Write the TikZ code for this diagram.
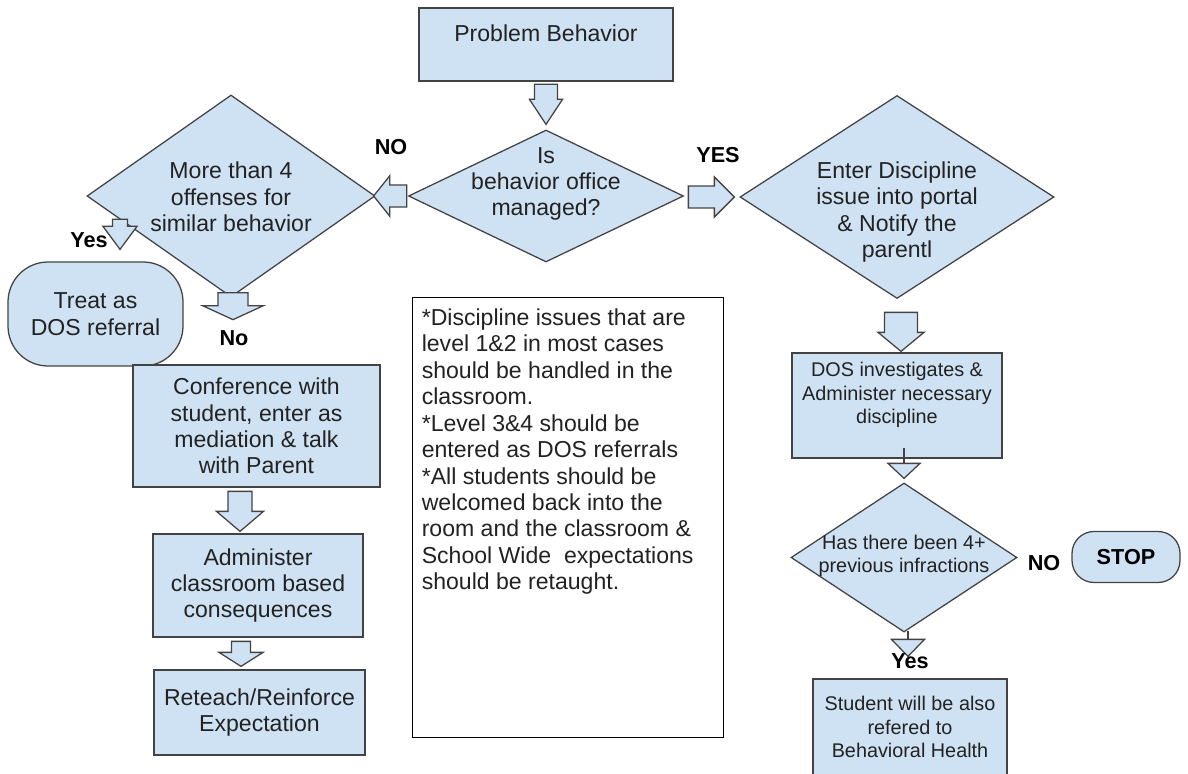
\documentclass[tikz,border=0pt]{standalone}
\usepackage{fontspec}
\setmainfont{Liberation Sans}
\usepackage{tikz}
\usetikzlibrary{shapes, positioning, calc}
\usepackage{xcolor}

\definecolor{boxblue}{HTML}{CFE2F3}
\definecolor{edgegray}{HTML}{434343}
\definecolor{textgray}{HTML}{222222}

\newlength{\pix}
\setlength{\pix}{0.025cm}

\newcommand{\bodytext}{\fontsize{16.4}{18.8}\selectfont}
\newcommand{\smalltext}{\fontsize{14.1}{16.7}\selectfont}
\newcommand{\answertext}{\fontsize{15.4}{18}\selectfont\bfseries}

% block arrows: tip, length, shaft half width, head half width, head length
\newcommand{\fatdown}[5]{%
  \filldraw[fatarrow] (#1) -- ++(#4,-#5) -- ++(#3-#4,0) -- ++(0,#5-#2)
    -- ++(-2*#3,0) -- ++(0,#2-#5) -- ++(#3-#4,0) -- cycle;}
\newcommand{\fatright}[5]{%
  \filldraw[fatarrow] (#1) -- ++(-#5,-#4) -- ++(0,#4-#3) -- ++(#5-#2,0)
    -- ++(0,2*#3) -- ++(#2-#5,0) -- ++(0,#4-#3) -- cycle;}
\newcommand{\fatleft}[5]{%
  \filldraw[fatarrow] (#1) -- ++(#5,-#4) -- ++(0,#4-#3) -- ++(#2-#5,0)
    -- ++(0,2*#3) -- ++(#5-#2,0) -- ++(0,#4-#3) -- cycle;}
% thin stem with triangle: tip, stem length, head half width, head length
\newcommand{\slimdown}[4]{%
  \draw[fatarrow] (#1) ++(0,-#4) -- ++(0,-#2);
  \filldraw[fatarrow] (#1) -- ++(#3,-#4) -- ++(-2*#3,0) -- cycle;}

\begin{document}
\begin{tikzpicture}[x=0.025cm, y=-0.025cm,
    box/.style={draw=edgegray, fill=boxblue, line width=0.9pt, inner sep=0pt,
      align=center, font=\bodytext, text=textgray},
    decision/.style={diamond, draw=edgegray, fill=boxblue, line width=0.9pt, inner sep=0pt},
    words/.style={align=center, inner sep=0pt, font=\bodytext, text=textgray},
    answer/.style={inner sep=0pt, font=\answertext, anchor=base},
    fatarrow/.style={draw=edgegray, fill=boxblue, line width=0.9pt}]

    % Page
    \fill[white] (0,0) rectangle (1188,774);
    \useasboundingbox (0,0) rectangle (1188,774);

    % Start
    \node[box, minimum width=254\pix, minimum height=73\pix] (pb) at (546,44.5) {};
    \node[words, anchor=base] (pbtext) at (546,42) {Problem Behavior};

    % Decisions
    \node[decision, minimum width=275\pix, minimum height=132\pix] (office) at (546,196) {};
    \node[words] (officetext) at (546,184) {Is\\behavior office\\managed?};
    \node[decision, minimum width=288\pix, minimum height=202\pix] (offense) at (231,196) {};
    \node[words] (offensetext) at (231,197) {More than 4\\offenses for\\similar behavior};
    \node[decision, minimum width=314\pix, minimum height=203\pix] (enter) at (897,197) {};
    \node[words] (entertext) at (897,212) {Enter Discipline\\issue into portal\\\& Notify the\\parentl};

    % Left branch
    \node[box, rounded corners=40\pix, minimum width=175\pix, minimum height=104\pix] (treat) at (95.5,314) {Treat as\\DOS referral};
    \node[box, minimum width=247\pix, minimum height=122\pix] (confer) at (256.5,426) {Conference with\\student, enter as\\mediation \& talk\\with Parent};
    \node[box, minimum width=210\pix, minimum height=103\pix] (admin) at (258,585.5) {Administer\\classroom based\\consequences};
    \node[box, minimum width=211\pix, minimum height=85\pix] (reteach) at (259.5,712.5) {Reteach/Reinforce\\Expectation};

    % Note
    \node[draw=black, fill=white, line width=0.7pt, minimum width=311\pix, minimum height=440\pix] (note) at (567.5,517) {};
    \node[words, align=left, anchor=north west] (notetext) at ($(note.north west)+(10,12)$)
        {*Discipline issues that are\\level 1\&2 in most cases\\should be handled in the\\classroom.\\*Level 3\&4 should be\\entered as DOS referrals\\*All students should be\\welcomed back into the\\room and the classroom \&\\School Wide~ expectations\\should be retaught.};

    % Right branch
    \node[box, minimum width=210\pix, minimum height=105\pix] (dos) at (897,405.5) {};
    \node[words, font=\smalltext, anchor=north] (dostext) at (897,362) {DOS investigates \&\\Administer necessary\\discipline};
    \node[decision, minimum width=226\pix, minimum height=149\pix] (history) at (904,557.5) {};
    \node[words, font=\smalltext] (historytext) at (904,556) {Has there been 4+\\previous infractions};
    \node[box, font=\answertext, text=black, rounded corners=22\pix, minimum width=108\pix, minimum height=51\pix] (stop) at (1126,557) {STOP};
    \node[box, font=\smalltext, minimum width=194\pix, minimum height=96\pix] (health) at (910,727) {Student will be also\\refered to\\Behavioral Health};

    % Arrows
    \fatdown{$(office.north)+(0,-5)$}{40}{11.5}{16.5}{25}
    \fatleft{$(offense.east)+(-2,0)$}{33}{11}{20}{16}
    \fatright{$(enter.west)+(-5,0)$}{46}{11}{20}{20}
    \fatdown{$(treat.north)+(24.5,-12)$}{30}{7.5}{17}{23}
    \fatdown{$(offense.south)+(2,22)$}{27}{15}{30.5}{14}
    \fatdown{$(admin.north)+(-18,-2)$}{40}{12}{23.5}{20}
    \fatdown{$(reteach.north)+(-18.5,-3)$}{25}{9.5}{22}{14}
    \fatdown{$(dos.north)+(4,-1)$}{39}{16.5}{23}{19}
    \slimdown{$(history.north)+(0,-4)$}{15}{16}{15}
    \slimdown{$(health.north)+(-2,-22)$}{8}{16.5}{17}

    % Answers
    \node[answer] (nolbl) at (391,155) {NO};
    \node[answer] (yeslbl) at (718,163) {YES};
    \node[answer] (yesleft) at (89,248) {Yes};
    \node[answer] (noleft) at (234,345) {No};
    \node[answer] (yesright) at (910,668) {Yes};
    \node[answer] (noright) at (1044,570) {NO};
\end{tikzpicture}
\end{document}
